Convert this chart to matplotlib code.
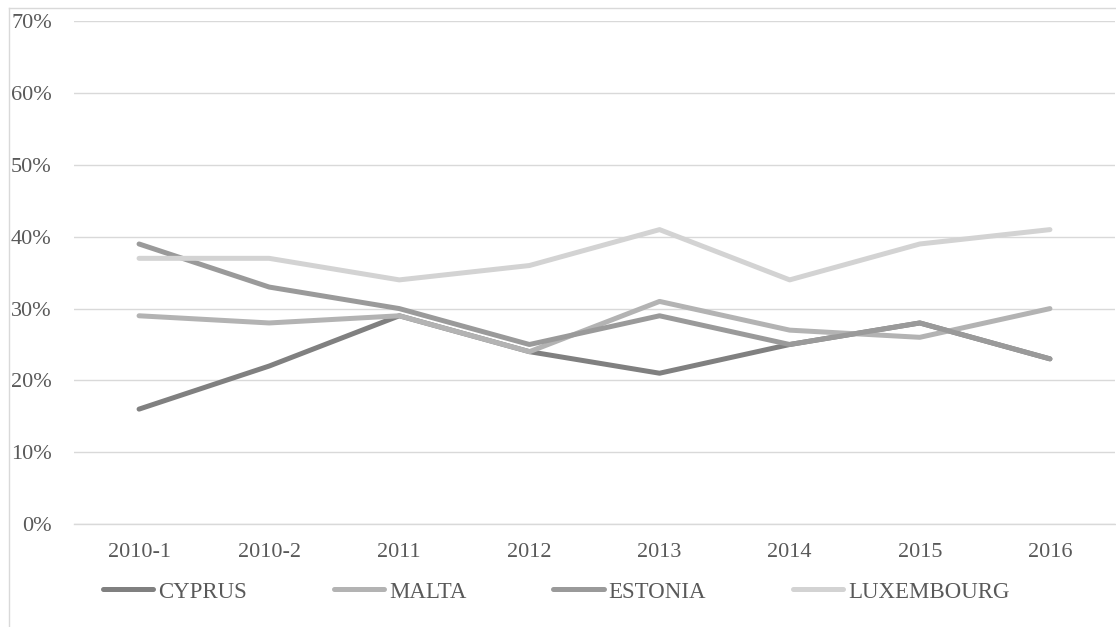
import matplotlib
matplotlib.use("Agg")
import matplotlib.pyplot as plt
from matplotlib.lines import Line2D
from matplotlib.ticker import FuncFormatter

categories = ["2010-1", "2010-2", "2011", "2012", "2013", "2014", "2015", "2016"]
cyprus = [16, 22, 29, 24, 21, 25, 28, 23]
malta = [29, 28, 29, 24, 31, 27, 26, 30]
estonia = [39, 33, 30, 25, 29, 25, 28, 23]
luxembourg = [37, 37, 34, 36, 41, 34, 39, 41]
series_names = ["CYPRUS", "MALTA", "ESTONIA", "LUXEMBOURG"]
series_colors = ["#808080", "#b3b3b3", "#9a9a9a", "#d3d3d3"]
y_ticks = [0, 10, 20, 30, 40, 50, 60, 70]

plt.rcParams['font.family'] = ['Liberation Serif', 'DejaVu Serif']

W, H = 1116, 627
fig = plt.figure(figsize=(W / 100, H / 100), dpi=100)
ax = fig.add_axes([74 / W, 1 - 524 / H, (1115 - 74) / W, (524 - 21.4) / H])

x = list(range(len(categories)))
for name, vals, col in zip(series_names, [cyprus, malta, estonia, luxembourg], series_colors):
    ax.plot(x, [v / 100 for v in vals], color=col, lw=3.6, solid_capstyle='round',
            solid_joinstyle='round', label=name, zorder=3)

ax.set_xlim(-0.5, len(categories) - 0.5)
ax.set_ylim(0, 0.7)
ax.set_yticks([t / 100 for t in y_ticks])
ax.yaxis.set_major_formatter(FuncFormatter(lambda v, p: f"{v * 100:.0f}%"))
ax.set_xticks(x)
ax.set_xticklabels(categories)
ax.grid(axis='y', color='#d9d9d9', lw=1.0, zorder=0)
ax.set_axisbelow(True)
for s in ['top', 'right', 'left']:
    ax.spines[s].set_visible(False)
ax.spines['bottom'].set_color('#d9d9d9')
ax.spines['bottom'].set_linewidth(1.0)
ax.tick_params(axis='both', length=0, labelsize=16, labelcolor='#595959')
ax.tick_params(axis='y', pad=16)
ax.tick_params(axis='x', pad=14)

leg = ax.legend(loc='center left', bbox_to_anchor=(103 / W, 1 - 592 / H),
                bbox_transform=fig.transFigure, ncol=4, frameon=False,
                fontsize=16.5, handlelength=2.2, handletextpad=0.2,
                columnspacing=3.8, borderaxespad=0, borderpad=0)
for t in leg.get_texts():
    t.set_color('#595959')

# outer chart frame
fig.add_artist(Line2D([8.5 / W, 8.5 / W], [0, 1 - 7.5 / H], transform=fig.transFigure,
                      color='#d9d9d9', lw=1.0))
fig.add_artist(Line2D([8.5 / W, 1], [1 - 7.5 / H, 1 - 7.5 / H], transform=fig.transFigure,
                      color='#d9d9d9', lw=1.0))

fig.savefig("out.png", dpi=100)
